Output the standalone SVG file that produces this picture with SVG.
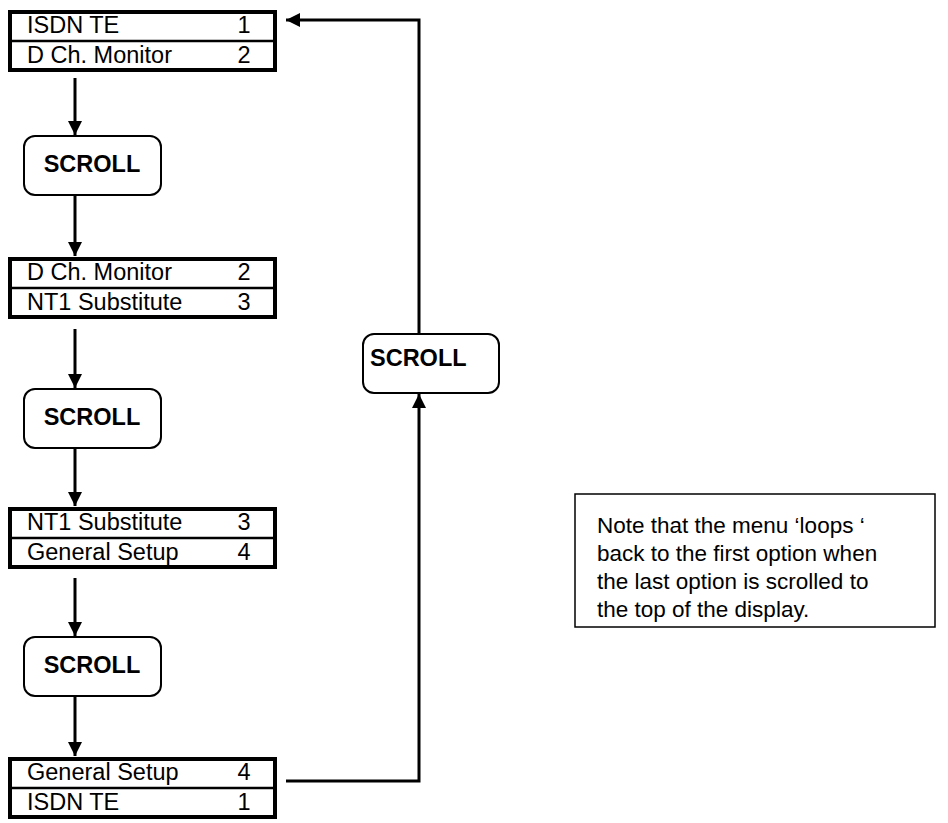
<svg xmlns="http://www.w3.org/2000/svg" width="948" height="823" viewBox="0 0 948 823">
<style>
.menu{fill:#fff;stroke:#000;stroke-width:4}
.div{stroke:#000;stroke-width:2.5}
.t{font-family:"Liberation Sans",Arial,sans-serif;font-size:23.5px;fill:#000}
.n{text-anchor:middle}
.sc{fill:#fff;stroke:#000;stroke-width:2}
.st{font-family:"Liberation Sans",Arial,sans-serif;font-size:23.5px;font-weight:bold;fill:#000}
.c{fill:none;stroke:#000;stroke-width:3}
.note{fill:#fff;stroke:#000;stroke-width:1.5}
.nt{font-family:"Liberation Sans",Arial,sans-serif;font-size:22.5px;fill:#000}
</style>
<defs>
<marker id="ah" viewBox="0 0 14 14" refX="14" refY="7" markerWidth="14" markerHeight="14" markerUnits="userSpaceOnUse" orient="auto">
<path d="M0,0 L14,7 L0,14 z" fill="#000"/>
</marker>
</defs>
<rect width="948" height="823" fill="#fff"/>

<g id="connectors">
<line class="c" x1="75" y1="78" x2="75" y2="135" marker-end="url(#ah)"/>
<line class="c" x1="75" y1="196" x2="75" y2="256" marker-end="url(#ah)"/>
<line class="c" x1="75" y1="329" x2="75" y2="388" marker-end="url(#ah)"/>
<line class="c" x1="75" y1="447" x2="75" y2="506" marker-end="url(#ah)"/>
<line class="c" x1="75" y1="578" x2="75" y2="636" marker-end="url(#ah)"/>
<line class="c" x1="75" y1="696" x2="75" y2="756" marker-end="url(#ah)"/>
<polyline class="c" points="286,781 419,781 419,394" marker-end="url(#ah)"/>
<polyline class="c" points="419,333 419,20 286,20" marker-end="url(#ah)"/>
</g>

<g id="menu1">
<rect class="menu" x="10" y="12" width="265" height="58"/>
<line class="div" x1="10" y1="41" x2="275" y2="41"/>
<text class="t" x="27" y="33">ISDN TE</text><text class="t n" x="244" y="33">1</text>
<text class="t" x="27" y="63">D Ch. Monitor</text><text class="t n" x="244" y="63">2</text>
</g>

<g id="scroll1">
<rect class="sc" x="24" y="136" width="137" height="59" rx="11"/>
<text class="st" x="92" y="172" text-anchor="middle">SCROLL</text>
</g>

<g id="menu2">
<rect class="menu" x="10" y="259" width="265" height="58"/>
<line class="div" x1="10" y1="288" x2="275" y2="288"/>
<text class="t" x="27" y="280">D Ch. Monitor</text><text class="t n" x="244" y="280">2</text>
<text class="t" x="27" y="310">NT1 Substitute</text><text class="t n" x="244" y="310">3</text>
</g>

<g id="scroll2">
<rect class="sc" x="24" y="389" width="137" height="59" rx="11"/>
<text class="st" x="92" y="425" text-anchor="middle">SCROLL</text>
</g>

<g id="menu3">
<rect class="menu" x="10" y="509" width="265" height="58"/>
<line class="div" x1="10" y1="538" x2="275" y2="538"/>
<text class="t" x="27" y="530">NT1 Substitute</text><text class="t n" x="244" y="530">3</text>
<text class="t" x="27" y="560">General Setup</text><text class="t n" x="244" y="560">4</text>
</g>

<g id="scroll3">
<rect class="sc" x="24" y="637" width="137" height="59" rx="11"/>
<text class="st" x="92" y="673" text-anchor="middle">SCROLL</text>
</g>

<g id="menu4">
<rect class="menu" x="10" y="759" width="265" height="58"/>
<line class="div" x1="10" y1="788" x2="275" y2="788"/>
<text class="t" x="27" y="780">General Setup</text><text class="t n" x="244" y="780">4</text>
<text class="t" x="27" y="810">ISDN TE</text><text class="t n" x="244" y="810">1</text>
</g>

<g id="scroll4">
<rect class="sc" x="363" y="334" width="136" height="59" rx="11"/>
<text class="st" x="370" y="366">SCROLL</text>
</g>

<g id="note">
<rect class="note" x="575" y="494" width="360" height="133"/>
<text class="nt" x="597" y="533">Note that the menu ‘loops ‘</text>
<text class="nt" x="597" y="561">back to the first option when</text>
<text class="nt" x="597" y="589">the last option is scrolled to</text>
<text class="nt" x="597" y="617">the top of the display.</text>
</g>
</svg>
